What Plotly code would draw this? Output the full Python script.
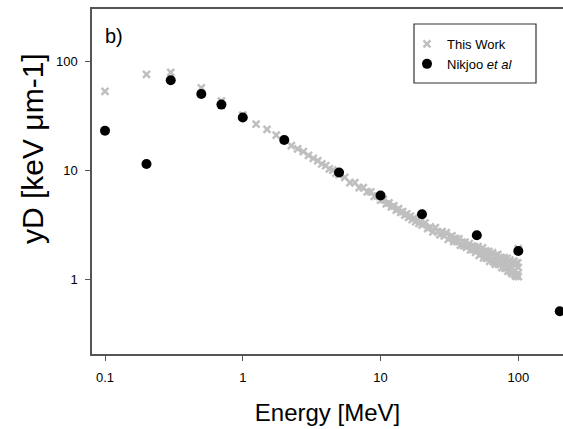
import plotly.graph_objects as go

# ---- Data ----
this_energy = [0.1, 0.2, 0.3, 0.5, 0.7, 1.0,
               1.25, 1.5, 1.75, 2.0, 2.25, 2.5, 2.75, 3.0, 3.25, 3.5, 3.75, 4.0,
               4.25, 4.5, 4.75, 5.0,
               5.5, 6.0, 6.5, 7.0, 7.5, 8.0, 8.5, 9.0, 9.5, 10.0,
               10.5, 11.0, 11.5, 12.0, 12.5, 13.0, 13.5, 14.0, 14.5, 15.0,
               15.5, 16.0, 16.5, 17.0, 17.5, 18.0, 18.5, 19.0, 19.5, 20.0,
               21, 22, 23, 24, 25, 26, 27, 28, 29, 30,
               31, 32, 33, 34, 35, 36, 37, 38, 39, 40,
               41, 42, 43, 44, 45, 46, 47, 48, 49, 50,
               51, 52, 53, 54, 55, 56, 57, 58, 59, 60,
               61, 62, 63, 64, 65, 66, 67, 68, 69, 70,
               71, 72, 73, 74, 75, 76, 77, 78, 79, 80,
               81, 82, 83, 84, 85, 86, 87, 88, 89, 90,
               91, 92, 93, 94, 95, 96, 97, 98, 99, 100, 100, 100]
this_yd = [53, 76, 79, 57, 43, 32,
           26.5, 23.7, 21.0, 19.0, 16.8, 15.7, 14.8, 13.7, 12.8, 12.2, 11.4, 11.0,
           10.3, 10.0, 9.4, 9.1,
           8.6, 7.7, 7.7, 6.9, 6.9, 6.3, 6.3, 5.75, 5.8, 5.3,
           5.35, 4.9, 5.0, 4.6, 4.7, 4.3, 4.42, 4.1, 4.16, 3.86,
           3.96, 3.68, 3.79, 3.51, 3.63, 3.37, 3.50, 3.24, 3.37, 3.12,
           3.27, 2.91, 3.01, 2.71, 2.97, 2.71, 2.55, 2.72, 2.49, 2.66,
           2.31, 2.44, 2.49, 2.21, 2.36, 2.21, 2.34, 2.05, 2.18, 2.03,
           2.18, 1.95, 2.02, 2.11, 1.85, 2.00, 1.86, 1.98, 1.76, 1.89,
           1.98, 1.65, 1.84, 1.70, 1.93, 1.56, 1.73, 1.81, 1.55, 1.63,
           1.79, 1.45, 1.69, 1.52, 1.75, 1.44, 1.58, 1.36, 1.65, 1.46,
           1.68, 1.36, 1.54, 1.38, 1.58, 1.27, 1.52, 1.39, 1.57, 1.25,
           1.42, 1.27, 1.55, 1.18, 1.42, 1.27, 1.49, 1.17, 1.41, 1.12,
           1.42, 1.17, 1.46, 1.10, 1.34, 1.06, 1.40, 1.10, 1.41, 1.05, 1.28, 1.9]

nik_energy = [0.1, 0.2, 0.3, 0.5, 0.7, 1.0, 2.0, 5.0, 10.0, 20.0, 50.0, 100.0, 200.0]
nik_yd = [23.0, 11.4, 67.0, 50.0, 40.0, 30.5, 18.9, 9.5, 5.85, 3.93, 2.52, 1.81, 0.505]

x_tickvals = [0.1, 1, 10, 100]
x_ticktext = ["0.1", "1", "10", "100"]
y_tickvals = [1, 10, 100]
y_ticktext = ["1", "10", "100"]

W, H = 563, 429
ML, MR, MT, MB = 92, 0, 9, 75
PW, PH = W - ML - MR, H - MT - MB


def px_x(p):
    return (p - ML) / PW


def px_y(p):
    return (H - MB - p) / PH


fig = go.Figure()
fig.add_trace(go.Scatter(
    x=this_energy, y=this_yd, mode="markers", name="This Work",
    marker=dict(symbol="x-thin", size=7, color="#bfbfbf",
                line=dict(width=2.5, color="#bfbfbf")),
))
fig.add_trace(go.Scatter(
    x=nik_energy, y=nik_yd, mode="markers", name="Nikjoo <i>et al</i>",
    marker=dict(symbol="circle", size=10, color="#000000"),
))

axis_common = dict(
    showgrid=False, zeroline=False, showline=True, linecolor="#555555", linewidth=1.5,
    ticks="outside", ticklen=5, tickcolor="#555555", tickwidth=1.2,
    tickfont=dict(family="Liberation Sans, Arial, sans-serif", size=13, color="#000000"),
)

fig.update_layout(
    width=W, height=H,
    margin=dict(l=ML, r=MR, t=MT, b=MB),
    paper_bgcolor="white", plot_bgcolor="white",
    font=dict(family="Liberation Sans, Arial, sans-serif", color="#000000"),
    showlegend=True,
    legend=dict(x=px_x(407), y=px_y(29), xanchor="left", yanchor="top",
                bgcolor="rgba(0,0,0,0)", borderwidth=0, tracegroupgap=0,
                font=dict(size=13, family="Liberation Sans, Arial, sans-serif")),
    xaxis=dict(type="log", range=[-1.0944, 2.3245], tickvals=x_tickvals,
               ticktext=x_ticktext, mirror=True, ticklabelstandoff=6,
               title=dict(text="Energy [MeV]", font=dict(size=24), standoff=20),
               **axis_common),
    yaxis=dict(type="log", range=[-0.689, 2.4805], tickvals=y_tickvals,
               ticktext=y_ticktext, ticklabelstandoff=5,
               **axis_common),
    shapes=[dict(type="rect", xref="paper", yref="paper",
                 x0=px_x(414), x1=px_x(536), y0=px_y(83), y1=px_y(24),
                 line=dict(color="#333333", width=1.2), fillcolor="rgba(0,0,0,0)")],
    annotations=[
        dict(text="b)", xref="paper", yref="paper", x=px_x(114), y=px_y(36),
             showarrow=False, font=dict(size=20), xanchor="center", yanchor="middle"),
        dict(text="yD [keV μm-1]", xref="paper", yref="paper", x=px_x(32), y=px_y(149),
             showarrow=False, textangle=-90, font=dict(size=30),
             xanchor="center", yanchor="middle"),
    ],
)

fig.write_html("out.html")
